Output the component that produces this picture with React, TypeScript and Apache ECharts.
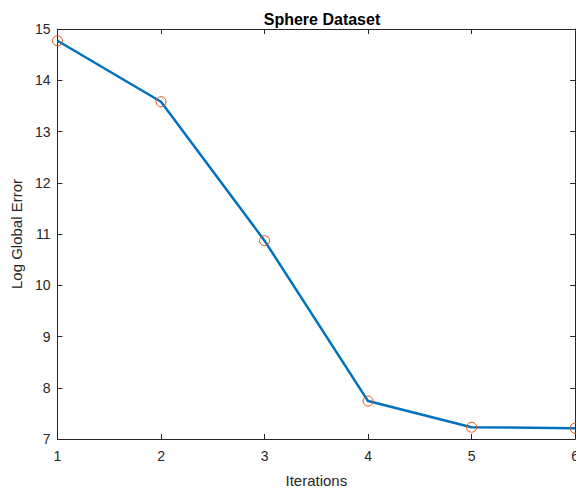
import React, { useEffect, useRef } from "react";
import * as echarts from "echarts";

const iterations = [1, 2, 3, 4, 5, 6];
const logGlobalError = [14.77, 13.58, 10.87, 7.74, 7.23, 7.21];
const titleText = "Sphere Dataset";
const xLabel = "Iterations";
const yLabel = "Log Global Error";

const FONT = "'Liberation Sans', Arial, Helvetica, sans-serif";
const AXIS = "#262626";

export default function App() {
  const ref = useRef<HTMLDivElement>(null);
  useEffect(() => {
    document.body.style.margin = "0";
    const chart = echarts.init(ref.current!, undefined, { renderer: "svg" });
    chart.setOption({
      animation: false,
      backgroundColor: "#ffffff",
      title: {
        text: titleText,
        left: 317,
        textAlign: "center",
        top: 6,
        textStyle: { fontFamily: FONT, fontSize: 16, fontWeight: "bold", color: "#000" },
      },
      grid: { left: 57.5, right: 2, top: 29, bottom: 52, containLabel: false },
      xAxis: [
        {
          type: "value",
          min: 1,
          max: 6,
          interval: 1,
          name: xLabel,
          nameLocation: "middle",
          nameGap: 34,
          nameTextStyle: { fontFamily: FONT, fontSize: 15, color: AXIS },
          axisLine: { show: true, lineStyle: { color: AXIS, width: 1 } },
          axisTick: { show: true, inside: true, length: 5, lineStyle: { color: AXIS } },
          axisLabel: { fontFamily: FONT, fontSize: 14, color: AXIS, margin: 10 },
          splitLine: { show: false },
        },
        {
          type: "value",
          position: "top",
          min: 1,
          max: 6,
          interval: 1,
          axisLine: { show: true, lineStyle: { color: AXIS, width: 1 } },
          axisTick: { show: true, inside: true, length: 5, lineStyle: { color: AXIS } },
          axisLabel: { show: false },
          splitLine: { show: false },
        },
      ],
      yAxis: [
        {
          type: "value",
          min: 7,
          max: 15,
          interval: 1,
          name: yLabel,
          nameLocation: "middle",
          nameGap: 32,
          nameTextStyle: { fontFamily: FONT, fontSize: 15, color: AXIS },
          axisLine: { show: true, lineStyle: { color: AXIS, width: 1 } },
          axisTick: { show: true, inside: true, length: 5, lineStyle: { color: AXIS } },
          axisLabel: { fontFamily: FONT, fontSize: 14, color: AXIS, margin: 7 },
          splitLine: { show: false },
        },
        {
          type: "value",
          position: "right",
          min: 7,
          max: 15,
          interval: 1,
          axisLine: { show: true, lineStyle: { color: AXIS, width: 1 } },
          axisTick: { show: true, inside: true, length: 5, lineStyle: { color: AXIS } },
          axisLabel: { show: false },
          splitLine: { show: false },
        },
      ],
      series: [
        {
          type: "line",
          xAxisIndex: 0,
          yAxisIndex: 0,
          data: iterations.map((x, i) => [x, logGlobalError[i]]),
          lineStyle: { color: "#0072BD", width: 2.5 },
          symbol: "circle",
          symbolSize: 10,
          showAllSymbol: true,
          itemStyle: { color: "rgba(0,0,0,0)", borderColor: "#D95319", borderWidth: 1 },
          emphasis: { disabled: true },
          clip: false,
        },
      ],
    });
    return () => chart.dispose();
  }, []);
  return (
    <div style={{ position: "absolute", left: 0, top: 0, width: 576, height: 493, overflow: "hidden" }}>
      <div ref={ref} style={{ position: "absolute", left: 0, top: 0, width: 582, height: 493 }} />
    </div>
  );
}
